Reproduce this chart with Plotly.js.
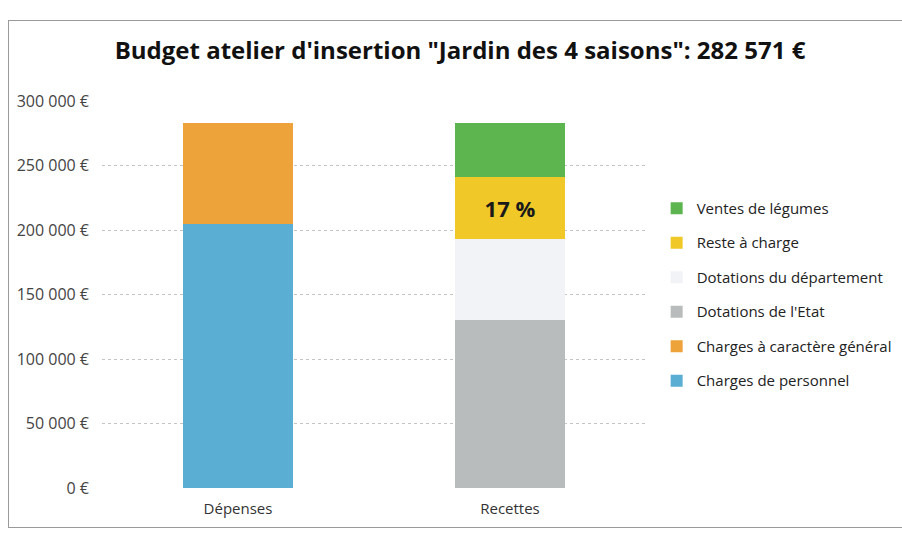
<!DOCTYPE html>
<html><head><meta charset="utf-8">
<script src="https://cdn.plot.ly/plotly-3.0.1.min.js"></script>
<style>
html,body{margin:0;padding:0;background:#fff;}
#wrap{position:relative;width:902px;height:533px;}
#frame{position:absolute;left:8px;top:20px;width:900px;height:506px;border:1px solid #9a9a9a;border-right:none;pointer-events:none;}
#chart{position:absolute;left:0;top:0;width:902px;height:533px;}
</style>
</head><body>
<div id="wrap"><div id="chart"></div><div id="frame"></div></div>
<script>
const categories = ["Dépenses", "Recettes"];
const seriesNames = ["Charges de personnel", "Charges à caractère général", "Dotations de l'Etat", "Dotations du département", "Reste à charge", "Ventes de légumes"];
const chargesPersonnel = [205000, null];
const chargesGeneral = [77571, null];
const dotationsEtat = [null, 130000];
const dotationsDepartement = [null, 63000];
const resteACharge = [null, 48000];
const ventesLegumes = [null, 41571];
const resteLabel = ["", "17 %"];
const yTickVals = [0, 50000, 100000, 150000, 200000, 250000, 300000];
const yTickText = ["0 €", "50 000 €", "100 000 €", "150 000 €", "200 000 €", "250 000 €", "300 000 €"];

const colors = ["#5aaed3", "#eea23a", "#b9bcbc", "#f1f3f7", "#f0c928", "#5cb54e"];
const values = [chargesPersonnel, chargesGeneral, dotationsEtat, dotationsDepartement, resteACharge, ventesLegumes];

const traces = values.map((v, i) => ({
  type: "bar",
  x: categories,
  y: v,
  name: seriesNames[i],
  legendgroup: "g" + i,
  legendrank: 1000 - i,
  marker: {color: colors[i], line: {width: 0}},
  hoverinfo: "none"
}));
traces[4].text = resteLabel;
traces[4].textposition = "inside";
traces[4].insidetextanchor = "middle";
traces[4].textfont = {family: "Open Sans, sans-serif", size: 22, color: "#1a1a1a", weight: "bold"};

const layout = {
  width: 902, height: 533,
  margin: {l: 102, r: 256, t: 101, b: 45},
  barmode: "stack",
  bargap: 0.596,
  paper_bgcolor: "#fff",
  plot_bgcolor: "#fff",
  font: {family: "Open Sans, sans-serif", size: 14, color: "#333"},
  title: {
    text: "<b>Budget atelier d'insertion \"Jardin des 4 saisons\": 282 571 €</b>",
    font: {family: "Open Sans, sans-serif", size: 24, color: "#111"},
    x: 0.51, xanchor: "center", y: 0.905, yanchor: "middle"
  },
  xaxis: {
    showline: false, zeroline: false, showgrid: false,
    tickfont: {size: 15, color: "#333"}, ticks: "", ticklabelstandoff: 10
  },
  yaxis: {
    range: [0, 300000],
    tickmode: "array",
    tickvals: yTickVals,
    ticktext: yTickText,
    tickfont: {size: 16, color: "#444"},
    showgrid: true, gridcolor: "#c4c4c4", griddash: "dot", gridwidth: 1,
    zeroline: false, showline: false, ticklen: 0, ticks: "", ticklabelstandoff: 12
  },
  legend: {
    xref: "container", yref: "container",
    x: 0.728, xanchor: "left", y: 0.64, yanchor: "top",
    traceorder: "grouped",
    tracegroupgap: 12,
    font: {size: 15, color: "#222"},
    bgcolor: "rgba(0,0,0,0)"
  },
  showlegend: true
};

Plotly.newPlot("chart", traces, layout, {displayModeBar: false, staticPlot: true});
</script>
</body></html>
